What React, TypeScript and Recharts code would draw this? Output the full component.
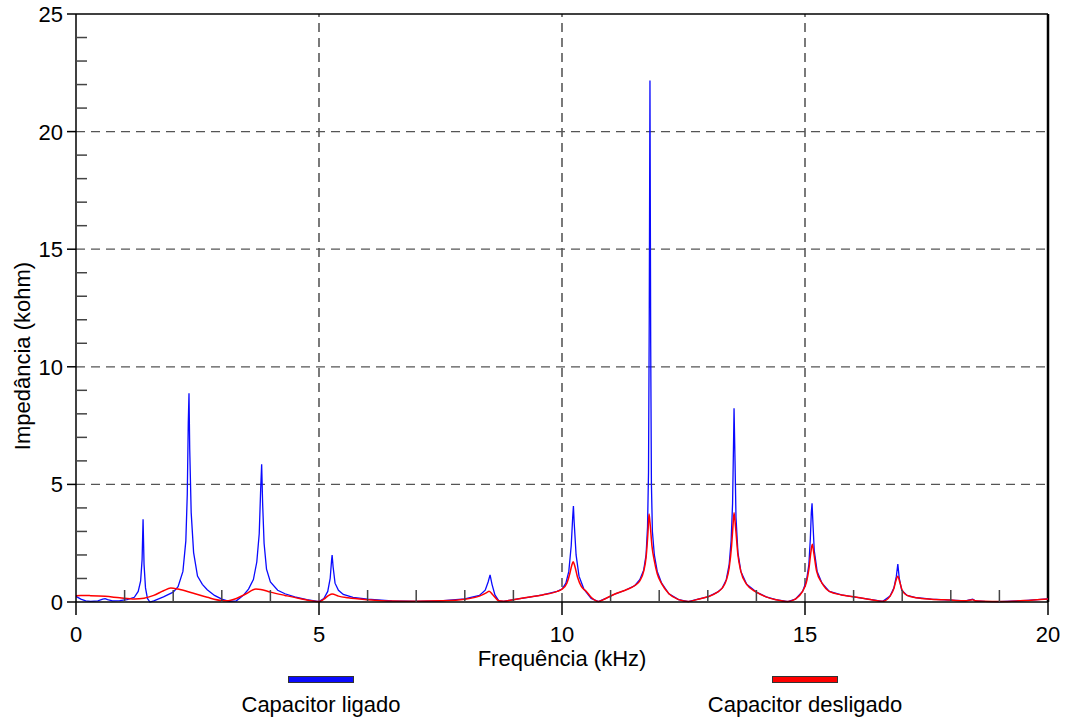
import { LineChart, Line, XAxis, YAxis, ReferenceLine } from 'recharts';

// frequency (kHz) / impedance (kohm) pairs
const capacitorLigado: Array<[number, number]> = [
  [0, 0.24], [0.1, 0.12], [0.2, 0.05], [0.3, 0.03], [0.45, 0.05], [0.55, 0.12], [0.6, 0.14],
  [0.65, 0.1], [0.75, 0.05], [0.9, 0.06], [1.05, 0.1], [1.2, 0.2], [1.28, 0.45], [1.33, 0.9],
  [1.36, 1.8], [1.38, 3.52], [1.4, 1.6], [1.43, 0.6], [1.47, 0.15], [1.52, 0.0], [1.6, 0.05],
  [1.8, 0.22], [2.0, 0.42], [2.1, 0.65], [2.2, 1.3], [2.26, 2.6], [2.29, 4.6], [2.31, 7.6],
  [2.325, 8.87], [2.34, 6.5], [2.37, 3.8], [2.42, 2.1], [2.5, 1.1], [2.6, 0.75], [2.7, 0.52],
  [2.85, 0.28], [3.0, 0.12], [3.15, 0.03], [3.3, 0.05], [3.45, 0.3], [3.55, 0.55], [3.65, 0.95],
  [3.72, 1.7], [3.77, 2.9], [3.8, 4.8], [3.82, 5.86], [3.84, 4.2], [3.87, 2.5], [3.92, 1.4],
  [4.0, 0.85], [4.15, 0.5], [4.3, 0.35], [4.5, 0.22], [4.75, 0.1], [5.0, 0.02], [5.1, 0.15],
  [5.18, 0.45], [5.23, 1.0], [5.26, 1.8], [5.27, 2.0], [5.29, 1.5], [5.33, 0.8], [5.4, 0.5],
  [5.5, 0.32], [5.7, 0.2], [6.0, 0.12], [6.5, 0.05], [7.0, 0.03], [7.5, 0.05], [8.0, 0.13],
  [8.3, 0.28], [8.42, 0.5], [8.48, 0.85], [8.52, 1.15], [8.56, 0.75], [8.62, 0.3], [8.7, 0.05],
  [8.8, 0.03], [9.0, 0.1], [9.3, 0.2], [9.6, 0.3], [9.9, 0.45], [10.0, 0.55], [10.08, 0.8],
  [10.14, 1.3], [10.19, 2.4], [10.22, 3.6], [10.235, 4.08], [10.25, 3.4], [10.29, 2.0],
  [10.35, 1.1], [10.45, 0.55], [10.6, 0.15], [10.75, 0.02], [10.9, 0.15], [11.1, 0.35],
  [11.3, 0.5], [11.5, 0.7], [11.6, 0.95], [11.68, 1.35], [11.73, 2.0], [11.76, 3.2],
  [11.78, 5.5], [11.795, 12], [11.81, 22.17], [11.825, 11], [11.84, 5.0], [11.86, 3.0],
  [11.9, 2.0], [11.96, 1.3], [12.05, 0.8], [12.2, 0.35], [12.4, 0.1], [12.6, 0.02], [12.8, 0.12],
  [13.0, 0.22], [13.2, 0.42], [13.3, 0.6], [13.38, 0.95], [13.44, 1.6], [13.48, 2.6],
  [13.51, 4.2], [13.53, 6.8], [13.54, 8.24], [13.56, 6.0], [13.58, 3.6], [13.62, 2.1],
  [13.68, 1.3], [13.8, 0.75], [14.0, 0.42], [14.2, 0.22], [14.4, 0.1], [14.65, 0.02],
  [14.8, 0.12], [14.95, 0.45], [15.03, 0.9], [15.08, 1.6], [15.11, 2.7], [15.13, 3.8],
  [15.145, 4.2], [15.16, 3.5], [15.19, 2.2], [15.25, 1.3], [15.35, 0.8], [15.5, 0.45],
  [15.75, 0.3], [16.0, 0.22], [16.3, 0.12], [16.6, 0.03], [16.75, 0.25], [16.83, 0.6],
  [16.88, 1.1], [16.91, 1.61], [16.94, 1.0], [16.99, 0.5], [17.1, 0.28], [17.3, 0.18],
  [17.6, 0.12], [18.0, 0.08], [18.3, 0.05], [18.45, 0.12], [18.5, 0.05], [18.7, 0.03],
  [19.0, 0.02], [19.5, 0.06], [20.0, 0.13],
];

const capacitorDesligado: Array<[number, number]> = [
  [0, 0.27], [0.1, 0.28], [0.3, 0.27], [0.6, 0.24], [0.9, 0.18], [1.2, 0.13], [1.4, 0.16],
  [1.6, 0.28], [1.8, 0.48], [1.95, 0.59], [2.1, 0.55], [2.4, 0.38], [2.7, 0.2], [3.0, 0.06],
  [3.1, 0.05], [3.3, 0.15], [3.5, 0.35], [3.7, 0.55], [3.8, 0.53], [4.0, 0.42], [4.3, 0.28],
  [4.6, 0.15], [5.0, 0.02], [5.1, 0.12], [5.2, 0.28], [5.27, 0.34], [5.4, 0.25], [5.6, 0.18],
  [6.0, 0.1], [6.5, 0.04], [7.0, 0.03], [7.5, 0.05], [8.0, 0.12], [8.3, 0.25], [8.45, 0.4],
  [8.5, 0.46], [8.58, 0.3], [8.7, 0.05], [8.8, 0.03], [9.0, 0.1], [9.3, 0.2], [9.6, 0.3],
  [9.9, 0.45], [10.0, 0.55], [10.1, 0.8], [10.16, 1.2], [10.2, 1.55], [10.23, 1.71],
  [10.26, 1.55], [10.32, 1.05], [10.4, 0.65], [10.5, 0.45], [10.6, 0.2], [10.75, 0.02],
  [10.9, 0.15], [11.1, 0.35], [11.3, 0.5], [11.5, 0.7], [11.6, 0.9], [11.68, 1.3],
  [11.73, 1.9], [11.77, 3.0], [11.79, 3.74], [11.81, 3.4], [11.85, 2.4], [11.9, 1.75],
  [11.96, 1.2], [12.05, 0.78], [12.2, 0.35], [12.4, 0.1], [12.6, 0.02], [12.8, 0.12],
  [13.0, 0.22], [13.2, 0.42], [13.3, 0.6], [13.38, 0.92], [13.44, 1.45], [13.49, 2.4],
  [13.52, 3.3], [13.54, 3.79], [13.57, 3.2], [13.62, 2.0], [13.68, 1.3], [13.8, 0.75],
  [14.0, 0.42], [14.2, 0.22], [14.4, 0.1], [14.65, 0.02], [14.8, 0.12], [14.95, 0.45],
  [15.03, 0.85], [15.08, 1.4], [15.12, 2.1], [15.15, 2.46], [15.18, 2.1], [15.24, 1.3],
  [15.35, 0.8], [15.5, 0.45], [15.75, 0.3], [16.0, 0.22], [16.3, 0.12], [16.6, 0.03],
  [16.75, 0.25], [16.83, 0.58], [16.87, 0.9], [16.91, 1.1], [16.95, 0.85], [17.0, 0.5],
  [17.1, 0.28], [17.3, 0.18], [17.6, 0.12], [18.0, 0.08], [18.3, 0.05], [18.45, 0.1],
  [18.5, 0.05], [18.7, 0.03], [19.0, 0.02], [19.5, 0.06], [20.0, 0.13],
];

const seriesNames = ['Capacitor ligado', 'Capacitor desligado'];
const seriesColors = ['#0a0aff', '#ff0000'];

const freqTicks = [0, 1, 2, 3, 4, 5, 6, 7, 8, 9, 10, 11, 12, 13, 14, 15, 16, 17, 18, 19, 20];
const impTicks = [0, 1, 2, 3, 4, 5, 6, 7, 8, 9, 10, 11, 12, 13, 14, 15, 16, 17, 18, 19, 20, 21, 22, 23, 24, 25];
const freqGrid = [5, 10, 15];
const impGrid = [5, 10, 15, 20];

const FONT = '"Liberation Sans", Arial, Helvetica, sans-serif';

const toRows = (pts: Array<[number, number]>) => pts.map(([f, v]) => ({ f, v }));

function FreqTick({ x, y, payload }: any) {
  const val = payload.value;
  if (val % 5 !== 0) {
    return <line x1={x} x2={x} y1={y} y2={y - 12} stroke="#444" strokeWidth={1.5} />;
  }
  return (
    <g>
      <line x1={x} x2={x} y1={y} y2={y + 13} stroke="#000" strokeWidth={1.5} />
      <text x={x} y={y + 40} textAnchor="middle" fontSize={22} fontFamily={FONT} fill="#000">
        {val}
      </text>
    </g>
  );
}

function ImpTick({ x, y, payload }: any) {
  const val = payload.value;
  if (val % 5 !== 0) {
    return <line x1={x} x2={x + 11} y1={y} y2={y} stroke="#444" strokeWidth={1.5} />;
  }
  return (
    <g>
      <line x1={x} x2={x - 9} y1={y} y2={y} stroke="#000" strokeWidth={1.5} />
      <text x={x - 13} y={y + 8} textAnchor="end" fontSize={22} fontFamily={FONT} fill="#000">
        {val}
      </text>
    </g>
  );
}

function XTitle({ viewBox }: any) {
  return (
    <text x={viewBox.x + viewBox.width / 2} y={viewBox.y + 64} textAnchor="middle"
      fontSize={22} fontFamily={FONT} fill="#000">
      Frequência (kHz)
    </text>
  );
}

function YTitle({ viewBox }: any) {
  const cx = 30;
  const cy = viewBox.y + viewBox.height / 2 + 48;
  return (
    <text x={cx} y={cy} transform={`rotate(-90 ${cx} ${cy})`} textAnchor="middle"
      fontSize={22} fontFamily={FONT} fill="#000">
      Impedância (kohm)
    </text>
  );
}

const legendPos = [321, 805];

export default function App() {
  return (
    <div style={{ position: 'absolute', left: 0, top: 0, width: 1066, height: 718, background: '#fff' }}>
      <LineChart width={1066} height={718} margin={{ top: 14, right: 18, bottom: 0, left: 0 }}>
        <XAxis
          dataKey="f"
          type="number"
          domain={[0, 20]}
          ticks={freqTicks}
          interval={0}
          height={116}
          tickSize={0}
          tickMargin={0}
          tickLine={false}
          axisLine={{ stroke: '#000', strokeWidth: 1.5 }}
          tick={<FreqTick />}
          label={<XTitle />}
          allowDuplicatedCategory={false}
        />
        <YAxis
          type="number"
          domain={[0, 25]}
          ticks={impTicks}
          interval={0}
          width={76}
          tickSize={0}
          tickMargin={0}
          tickLine={false}
          axisLine={{ stroke: '#000', strokeWidth: 1.5 }}
          tick={<ImpTick />}
          label={<YTitle />}
        />
        {freqGrid.map((f) => (
          <ReferenceLine key={'vx' + f} x={f} stroke="#222" strokeDasharray="9 6" strokeWidth={1.2} />
        ))}
        {impGrid.map((v) => (
          <ReferenceLine key={'hy' + v} y={v} stroke="#555" strokeDasharray="9 6" strokeWidth={1.2} />
        ))}
        <ReferenceLine y={25} stroke="#000" strokeWidth={1.5} />
        <ReferenceLine x={20} stroke="#000" strokeWidth={2.5} />
        <Line
          data={toRows(capacitorLigado)}
          dataKey="v"
          name={seriesNames[0]}
          type="linear"
          stroke={seriesColors[0]}
          strokeWidth={1.3}
          dot={false}
          activeDot={false}
          isAnimationActive={false}
        />
        <Line
          data={toRows(capacitorDesligado)}
          dataKey="v"
          name={seriesNames[1]}
          type="monotone"
          stroke={seriesColors[1]}
          strokeWidth={1.5}
          dot={false}
          activeDot={false}
          isAnimationActive={false}
        />
      </LineChart>
      {seriesNames.map((name, i) => (
        <div key={name}>
          <div
            style={{
              position: 'absolute',
              left: legendPos[i] - 33,
              top: 676,
              width: 64,
              height: 5,
              background: seriesColors[i],
              border: '1px solid #333',
            }}
          />
          <div
            style={{
              position: 'absolute',
              left: legendPos[i] - 150,
              width: 300,
              top: 694,
              textAlign: 'center',
              fontFamily: FONT,
              fontSize: 22,
              lineHeight: '22px',
              color: '#000',
            }}
          >
            {name}
          </div>
        </div>
      ))}
    </div>
  );
}
